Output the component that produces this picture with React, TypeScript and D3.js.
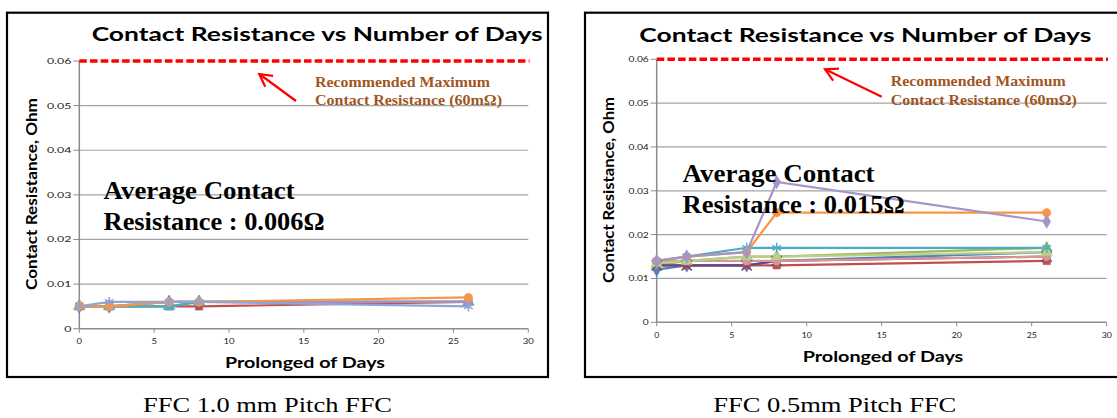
import React from "react";
import * as d3 from "d3";

const days = [0, 2, 6, 8, 26];
const xTicks = [0, 5, 10, 15, 20, 25, 30];
const yTicks = [0, 0.01, 0.02, 0.03, 0.04, 0.05, 0.06];
const limitValue = 0.06;

// FFC 1.0 mm pitch series
const a_blue = [0.005, 0.005, 0.006, 0.006, 0.006];
const a_red = [0.005, 0.005, 0.005, 0.005, 0.006];
const a_green = [0.005, 0.005, 0.005, 0.006, 0.006];
const a_aqua = [0.005, 0.005, 0.005, 0.006, 0.006];
const a_orange = [0.005, 0.005, 0.006, 0.006, 0.007];
const a_mauve = [0.005, 0.005, 0.006, 0.006, 0.006];
const a_star = [0.005, 0.006, 0.006, 0.006, 0.005];

// FFC 0.5 mm pitch series
const b_blue = [0.012, 0.013, 0.013, 0.014, 0.016];
const b_red = [0.013, 0.013, 0.013, 0.013, 0.014];
const b_green = [0.013, 0.014, 0.015, 0.015, 0.017];
const b_purple = [0.013, 0.013, 0.013, 0.014, 0.015];
const b_pink = [0.014, 0.014, 0.014, 0.014, 0.015];
const b_lightgreen = [0.0135, 0.014, 0.015, 0.015, 0.016];
const b_aqua = [0.014, 0.015, 0.017, 0.017, 0.017];
const b_orange = [0.014, 0.015, 0.016, 0.025, 0.025];
const b_lavender = [0.014, 0.015, 0.016, 0.032, 0.023];

type Series = { values: number[]; color: string; marker: string };

const seriesA: Series[] = [
  { values: a_blue, color: "#4F81BD", marker: "diamond" },
  { values: a_red, color: "#C0504D", marker: "square" },
  { values: a_green, color: "#9BBB59", marker: "triangle" },
  { values: a_aqua, color: "#4BACC6", marker: "triangle" },
  { values: a_mauve, color: "#A98FC0", marker: "circle" },
  { values: a_orange, color: "#F79646", marker: "circle" },
  { values: a_star, color: "#8EA5D6", marker: "asterisk" },
];

const seriesB: Series[] = [
  { values: b_blue, color: "#4F81BD", marker: "diamond" },
  { values: b_red, color: "#C0504D", marker: "square" },
  { values: b_green, color: "#9BBB59", marker: "triangle" },
  { values: b_purple, color: "#604A8B", marker: "x" },
  { values: b_pink, color: "#D99694", marker: "circle" },
  { values: b_lightgreen, color: "#B7D08A", marker: "triangle" },
  { values: b_aqua, color: "#4BACC6", marker: "asterisk" },
  { values: b_orange, color: "#F79646", marker: "circle" },
  { values: b_lavender, color: "#A595C8", marker: "diamond" },
];

const symbolMap: Record<string, any> = {
  diamond: d3.symbolDiamond,
  square: d3.symbolSquare,
  triangle: d3.symbolTriangle,
  circle: d3.symbolCircle,
  x: d3.symbolX,
  asterisk: d3.symbolAsterisk,
};
const strokeMarkers = new Set(["x", "asterisk"]);

type PanelProps = {
  box: [number, number, number, number];
  plot: { left: number; right: number; top: number; bottom: number };
  limitRight: number;
  title: { x: number; y: number; len: number };
  yLabel: { x: number; y: number; len: number };
  xLabel: { x: number; y: number; len: number };
  yTickSx: number;
  xTickSx: number;
  xTickY: number;
  note: { x: number; y: number; len1: number; len2: number };
  arrow: { x1: number; y1: number; x2: number; y2: number };
  avg: { x: number; y: number; y2: number; text: string; len1: number; len2: number };
  caption: { x: number; y: number; len: number; text: string };
  series: Series[];
};

const sans = "Lato, 'Open Sans', sans-serif";
const serif = "'Liberation Serif', 'Times New Roman', serif";

function Panel(p: PanelProps) {
  const x = d3.scaleLinear().domain([0, 30]).range([p.plot.left, p.plot.right]);
  const y = d3.scaleLinear().domain([0, 0.06]).range([p.plot.bottom, p.plot.top]);
  const line = d3
    .line<number>()
    .x((_, i) => x(days[i]))
    .y((v) => y(v));
  const ang = Math.atan2(p.arrow.y1 - p.arrow.y2, p.arrow.x1 - p.arrow.x2);
  const headLen = 14;
  const spread = 0.5;
  const h1 = [p.arrow.x2 + headLen * Math.cos(ang - spread), p.arrow.y2 + headLen * Math.sin(ang - spread)];
  const h2 = [p.arrow.x2 + headLen * Math.cos(ang + spread), p.arrow.y2 + headLen * Math.sin(ang + spread)];
  const [bx, by, bw, bh] = p.box;
  return (
    <g>
      <rect x={bx} y={by} width={bw} height={bh} fill="white" stroke="#000" strokeWidth={2.2} />
      <text
        x={p.title.x}
        y={p.title.y}
        fontFamily={sans}
        fontWeight={700}
        fontSize={19.5}
        fill="#000"
        textLength={p.title.len}
        lengthAdjust="spacingAndGlyphs"
      >
        Contact Resistance vs Number of Days
      </text>
      {yTicks.map((t) => (
        <g key={"g" + t}>
          {t > 0 && t < 0.06 && (
            <line x1={p.plot.left} x2={p.plot.right} y1={y(t)} y2={y(t)} stroke="#A3A3A3" strokeWidth={1.2} />
          )}
          <line x1={p.plot.left - 6} x2={p.plot.left} y1={y(t)} y2={y(t)} stroke="#8C8C8C" strokeWidth={1} />
          <text
            transform={`translate(${p.plot.left - 8},${y(t) + 3}) scale(${p.yTickSx},1)`}
            textAnchor="end"
            fontFamily={sans}
            fontSize={8.5}
            fill="#222"
          >
            {t === 0 ? "0" : d3.format(".2f")(t)}
          </text>
        </g>
      ))}
      <line x1={p.plot.left} x2={p.plot.left} y1={p.plot.top} y2={p.plot.bottom} stroke="#8C8C8C" strokeWidth={1.5} />
      <line x1={p.plot.left} x2={p.plot.right} y1={p.plot.bottom} y2={p.plot.bottom} stroke="#8C8C8C" strokeWidth={1.5} />
      {xTicks.map((t) => (
        <g key={"x" + t}>
          <line x1={x(t)} x2={x(t)} y1={p.plot.bottom} y2={p.plot.bottom + 4} stroke="#8C8C8C" strokeWidth={1} />
          <text
            transform={`translate(${x(t)},${p.xTickY}) scale(${p.xTickSx},1)`}
            textAnchor="middle"
            fontFamily={sans}
            fontSize={8.5}
            fill="#222"
          >
            {t}
          </text>
        </g>
      ))}
      <line
        x1={p.plot.left}
        x2={p.limitRight}
        y1={y(limitValue)}
        y2={y(limitValue)}
        stroke="#FF0000"
        strokeWidth={3.5}
        strokeDasharray="7.5 3.2"
      />
      <text
        transform={`translate(${p.yLabel.x},${p.yLabel.y}) rotate(-90)`}
        textAnchor="middle"
        fontFamily={sans}
        fontWeight={700}
        fontSize={16}
        fill="#000"
        textLength={p.yLabel.len}
        lengthAdjust="spacingAndGlyphs"
      >
        Contact Resistance, Ohm
      </text>
      <text
        x={p.xLabel.x}
        y={p.xLabel.y}
        fontFamily={sans}
        fontWeight={700}
        fontSize={15.5}
        fill="#000"
        textLength={p.xLabel.len}
        lengthAdjust="spacingAndGlyphs"
      >
        Prolonged of Days
      </text>
      {p.series.map((s, i) => (
        <path key={"l" + i} d={line(s.values) || ""} fill="none" stroke={s.color} strokeWidth={2.2} />
      ))}
      {p.series.map((s, i) =>
        s.values.map((v, j) => {
          const isStroke = strokeMarkers.has(s.marker);
          const sym = d3.symbol().type(symbolMap[s.marker]).size(isStroke ? 70 : 55);
          return (
            <path
              key={"m" + i + "_" + j}
              d={sym() || ""}
              transform={`translate(${x(days[j])},${y(v)})`}
              fill={isStroke ? "none" : s.color}
              stroke={s.color}
              strokeWidth={isStroke ? 1.5 : 0.5}
            />
          );
        })
      )}
      <text fontFamily={serif} fontWeight={700} fontSize={15} fill="#A0561E">
        <tspan x={p.note.x} y={p.note.y} textLength={p.note.len1} lengthAdjust="spacingAndGlyphs">
          Recommended Maximum
        </tspan>
      </text>
      <text fontFamily={serif} fontWeight={700} fontSize={15} fill="#A0561E">
        <tspan x={p.note.x} y={p.note.y + 18.5} textLength={p.note.len2} lengthAdjust="spacingAndGlyphs">
          Contact Resistance (60mΩ)
        </tspan>
      </text>
      <g stroke="#FF0000" strokeWidth={2.2} fill="none">
        <line x1={p.arrow.x1} y1={p.arrow.y1} x2={p.arrow.x2} y2={p.arrow.y2} />
        <polyline points={`${h1[0]},${h1[1]} ${p.arrow.x2},${p.arrow.y2} ${h2[0]},${h2[1]}`} />
      </g>
      <text
        x={p.avg.x}
        y={p.avg.y}
        fontFamily={serif}
        fontWeight={700}
        fontSize={25}
        fill="#000"
        textLength={p.avg.len1}
        lengthAdjust="spacingAndGlyphs"
      >
        Average Contact
      </text>
      <text
        x={p.avg.x}
        y={p.avg.y2}
        fontFamily={serif}
        fontWeight={700}
        fontSize={25}
        fill="#000"
        textLength={p.avg.len2}
        lengthAdjust="spacingAndGlyphs"
      >
        {p.avg.text}
      </text>
      <text
        x={p.caption.x}
        y={p.caption.y}
        fontFamily={serif}
        fontSize={20.5}
        fill="#000"
        textLength={p.caption.len}
        lengthAdjust="spacingAndGlyphs"
      >
        {p.caption.text}
      </text>
    </g>
  );
}

export default function App() {
  return (
    <svg
      width={1117}
      height={418}
      style={{ position: "absolute", left: 0, top: 0, background: "white" }}
    >
      <Panel
        box={[7, 12.7, 541, 364.3]}
        plot={{ left: 79.3, right: 528.3, top: 61, bottom: 328.7 }}
        limitRight={529.5}
        title={{ x: 91.7, y: 40.7, len: 451 }}
        yLabel={{ x: 37, y: 194, len: 192 }}
        xLabel={{ x: 225, y: 368, len: 160 }}
        yTickSx={1.45}
        xTickSx={1.12}
        xTickY={344}
        note={{ x: 315, y: 86.7, len1: 175, len2: 187 }}
        arrow={{ x1: 296, y1: 101, x2: 259.3, y2: 74 }}
        avg={{ x: 103.6, y: 199, y2: 230, text: "Resistance : 0.006Ω", len1: 191, len2: 221 }}
        caption={{ x: 143, y: 411.7, len: 249, text: "FFC 1.0 mm Pitch FFC" }}
        series={seriesA}
      />
      <Panel
        box={[585, 12.7, 560, 364.3]}
        plot={{ left: 656.7, right: 1106.7, top: 59.3, bottom: 322.3 }}
        limitRight={1108}
        title={{ x: 639.3, y: 41.7, len: 452 }}
        yLabel={{ x: 614, y: 190, len: 186 }}
        xLabel={{ x: 802.7, y: 362.3, len: 160.6 }}
        yTickSx={1.2}
        xTickSx={1.03}
        xTickY={338.3}
        note={{ x: 890.7, y: 86, len1: 175, len2: 186 }}
        arrow={{ x1: 881.7, y1: 96.7, x2: 825, y2: 69.3 }}
        avg={{ x: 682.6, y: 182.3, y2: 213.3, text: "Resistance : 0.015Ω", len1: 192, len2: 222 }}
        caption={{ x: 713.3, y: 411.7, len: 243, text: "FFC 0.5mm Pitch FFC" }}
        series={seriesB}
      />
    </svg>
  );
}
